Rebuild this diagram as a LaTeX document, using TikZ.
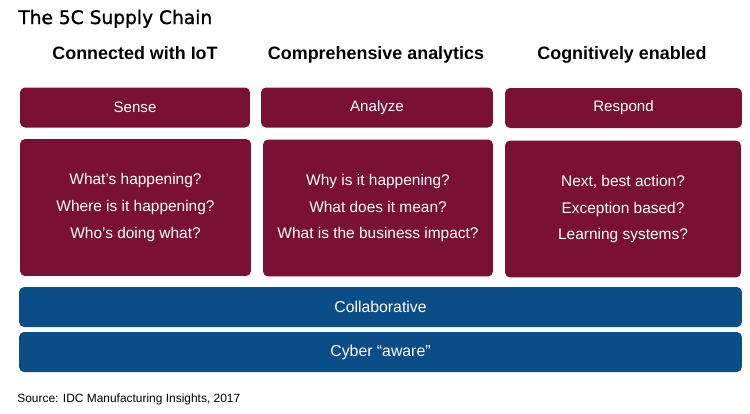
\documentclass[tikz,border=0pt]{standalone}
\usepackage{fontspec}
\setmainfont{Liberation Sans}
\newfontfamily\titlefont[FakeBold=1.2]{DejaVu Sans}
\definecolor{idcred}{HTML}{7A1034}
\definecolor{idcblue}{HTML}{0B4D87}

\begin{document}
\begin{tikzpicture}[x=0.02cm, y=-0.02cm,
        header/.style={anchor=base, font=\bfseries\fontsize{10.2}{12}\selectfont},
        phase/.style={fill=idcred, rounded corners=0.1cm, text=white, inner sep=0pt,
            minimum height=0.8cm, font=\fontsize{8.6}{10}\selectfont},
        questions/.style={fill=idcred, rounded corners=0.1cm, text=white, inner sep=0pt,
            minimum height=2.74cm, align=center, font=\fontsize{8.8}{15.3}\selectfont},
        layer/.style={fill=idcblue, rounded corners=0.1cm, text=white, inner sep=0pt,
            minimum width=14.46cm, minimum height=0.8cm, font=\fontsize{9}{11}\selectfont}
    ]
        \useasboundingbox (0,0) rectangle (750,413);

        \node[anchor=base west, inner sep=0pt, font=\titlefont\fontsize{10.6}{12}\selectfont] (title) at (18,24) {The 5C Supply Chain};

        \node[header] (h1) at (135,59) {Connected with IoT};
        \node[header] (h2) at (376,59) {Comprehensive analytics};
        \node[header] (h3) at (622,59) {Cognitively enabled};

        \node[phase, minimum width=4.6cm] (sense) at (135,107.5) {Sense};
        \node[phase, minimum width=4.64cm] (analyze) at (377,107.5) {Analyze};
        \node[phase, minimum width=4.74cm] (respond) at (623.5,108) {Respond};

        \node[questions, minimum width=4.62cm] (q1) at (135.5,207.5)
            {What's happening?\\Where is it happening?\\Who's doing what?};
        \node[questions, minimum width=4.6cm] (q2) at (378,208)
            {Why is it happening?\\What does it mean?\\What is the business impact?};
        \node[questions, minimum width=4.72cm] (q3) at (623,209)
            {Next, best action?\\Exception based?\\Learning systems?};

        \node[layer] (collab) at (380.5,307) {Collaborative};
        \node[layer] (cyber) at (380.5,352) {Cyber ``aware''};

        \node[anchor=base west, inner sep=0pt, font=\fontsize{6.8}{8}\selectfont] (source) at (17,402)
            {Source: IDC Manufacturing Insights, 2017};
    \end{tikzpicture}
\end{document}
